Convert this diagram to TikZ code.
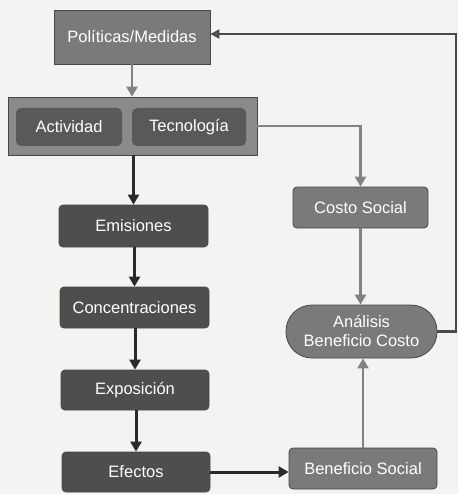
\documentclass[tikz,border=0pt]{standalone}
\usepackage{fontspec}
\setmainfont{Liberation Sans}
\usetikzlibrary{arrows.meta,calc}

\definecolor{paper}{HTML}{F3F3F1}
\definecolor{midgray}{HTML}{7A7A7A}
\definecolor{lightgray}{HTML}{8A8A8A}
\definecolor{darkbox}{HTML}{4E4E4E}
\definecolor{innerbox}{HTML}{595959}
\definecolor{edgegray}{HTML}{484848}
\definecolor{arrowgray}{HTML}{828282}
\definecolor{arrowdark}{HTML}{2A2A2A}

\tikzset{
  base/.style={draw=edgegray, line width=0.8pt, text=white,
    font=\fontsize{16.5}{18}\selectfont, inner sep=0pt, align=center},
  graybox/.style={base, fill=midgray},
  darkstep/.style={base, fill=darkbox, rounded corners=4pt},
  softbox/.style={base, fill=midgray, rounded corners=4pt},
  innerstep/.style={base, draw=none, fill=innerbox, rounded corners=5pt},
  grayarrow/.style={draw=arrowgray, line width=2.8pt,
    -{Triangle[length=10pt,width=11pt]}},
  darkarrow/.style={draw=arrowdark, line width=3pt,
    -{Triangle[length=10pt,width=11pt]}},
  looparrow/.style={draw=arrowdark!85, line width=2.2pt,
    -{Triangle[length=9pt,width=9pt,fill=arrowgray]}},
}

\begin{document}
\begin{tikzpicture}[x=1pt, y=-1pt]
  % canvas
  \fill[paper] (0,0) rectangle (458,494);
  \useasboundingbox (0,0) rectangle (458,494);

  % policy box
  \node[graybox, minimum width=156pt, minimum height=54pt] (pol) at (132,37) {Políticas/Medidas};

  % activity / technology frame
  \node[graybox, fill=lightgray, minimum width=249pt, minimum height=58pt] (frame) at (132.5,126) {};
  \node[innerstep, minimum width=106pt, minimum height=38pt] (act) at (69,127) {Actividad};
  \node[innerstep, minimum width=114pt, minimum height=38pt] (tec) at (189,127) {Tecnología};

  % impact chain
  \node[darkstep, minimum width=149pt, minimum height=42pt] (emi) at (133.5,226) {Emisiones};
  \node[darkstep, minimum width=149pt, minimum height=41pt] (con) at (134.5,307.5) {Concentraciones};
  \node[darkstep, minimum width=148pt, minimum height=40pt] (exp) at (135,390) {Exposición};
  \node[darkstep, minimum width=148pt, minimum height=40pt] (efe) at (136,472) {Efectos};

  % evaluation column
  \node[softbox, minimum width=135pt, minimum height=41pt] (cos) at (360.5,207.5) {Costo Social};
  \node[softbox, minimum width=151pt, minimum height=53pt, rounded corners=26pt] (ana) at (361.5,331.5) {Análisis\\[1pt]Beneficio Costo};
  \node[softbox, minimum width=148pt, minimum height=41pt] (ben) at (363,468.5) {Beneficio Social};

  % connectors
  \draw[grayarrow] (pol.south) -- (pol.south |- frame.north);
  \draw[darkarrow] (frame.south -| emi.north) -- (emi.north);
  \draw[darkarrow] (emi.south -| con.north) -- (con.north);
  \draw[darkarrow] (con.south -| exp.north) -- (exp.north);
  \draw[darkarrow] (exp.south -| efe.north) -- (efe.north);
  \draw[darkarrow] (efe.east) -- (efe.east -| ben.west);

  \draw[grayarrow] (frame.east) -| (cos.north);
  \draw[grayarrow] (cos.south) -- (cos.south |- ana.north);
  \draw[grayarrow] (ben.north) -- (ben.north |- ana.south);

  \coordinate (rim) at (456,0);
  \draw[looparrow] (ana.east) -- (ana.east -| rim) |- ([yshift=3pt]pol.east);
\end{tikzpicture}
\end{document}
